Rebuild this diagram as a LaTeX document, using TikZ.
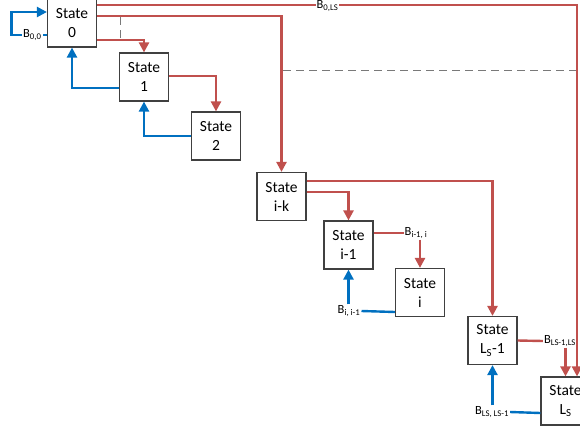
\documentclass[tikz,border=0pt]{standalone}
\usepackage{fontspec}
\setmainfont{Carlito}
\usetikzlibrary{arrows.meta}
\definecolor{stred}{RGB}{192,80,77}
\definecolor{stblue}{RGB}{0,112,192}
\definecolor{stgray}{RGB}{64,64,64}
\begin{document}
\begin{tikzpicture}[x=1pt, y=-1pt,
    redline/.style={draw=stred, line width=2.4pt},
    blueline/.style={draw=stblue, line width=2.4pt},
    tip/.style={-{Triangle[length=10pt, width=10pt]}},
    lbl/.style={fill=white, inner sep=1pt, font=\fontsize{12.5}{14}\selectfont}]
   \useasboundingbox (0,0) rectangle (580,431);
   \begin{scope}[every node/.style={draw=stgray, line width=1.2pt, fill=white, minimum width=49pt, minimum height=48pt, inner sep=0pt, align=center, font=\fontsize{15.5}{19}\selectfont}]
    \node (s0) at (72,23) {State\\0};
    \node (s1) at (144,77) {State\\1};
    \node (s2) at (216,136) {State\\2};
    \node (sik) at (281.5,196.5) {State\\i-k};
    \node (sim1) at (348.5,245) {State\\i-1};
    \node (si) at (420,292.5) {State\\i};
    \node (sls1) at (492.5,340.5) {State\\L\textsubscript{S}-1};
    \node (sls) at (565.5,401) {State\\L\textsubscript{S}};
   \end{scope}
   % labels sitting on the connectors
   \node[lbl] (bim1i) at (416,233) {B\textsubscript{i-1, i}};
   \node[lbl] (bii) at (349,311) {B\textsubscript{i, i-1}};
   \node[lbl] (bls1ls) at (560,341) {B\textsubscript{LS-1,LS}};
   \node[lbl] (blsls) at (492,412) {B\textsubscript{LS, LS-1}};
   % dashed guides
   \draw[stgray!70, dash pattern=on 8pt off 5pt, line width=1pt] (120,17) -- (120,40);
   \draw[stgray!70, dash pattern=on 8pt off 5pt, line width=1pt] (283,70) -- (580,70);
   \begin{scope}[every path/.style={redline}]
    \draw[tip] ([yshift=18pt]s0.east) -| node[lbl, pos=0.24, yshift=-1pt] (b0ls) {B\textsubscript{0,LS}} ([xshift=11.5pt]sls.north);
    \draw[tip] ([yshift=7pt]s0.east) -| (sik.north);
    \draw[tip] ([yshift=-17pt]s0.east) -| (s1.north);
    \draw[tip] ([yshift=1pt]s1.east) -| (s2.north);
    \draw[tip] ([yshift=15.5pt]sik.east) -| (sls1.north);
    \draw[tip] ([yshift=4.5pt]sik.east) -| (sim1.north);
    \draw ([yshift=12pt]sim1.east) -- (bim1i.west);
    \draw[tip] (bim1i.south -| si.north) -- (si.north);
    \draw (sls1.east) -- (bls1ls.west);
    \draw[tip] (bls1ls.south -| sls.north) -- (sls.north);
   \end{scope}
   \begin{scope}[every path/.style={blueline}]
    \draw[tip] ([yshift=-12pt]s0.west) -- node[lbl, pos=0.41] (b00) {B\textsubscript{0,0}} ++(-35.5,0) |- ([yshift=11pt]s0.west);
    \draw[tip] ([yshift=-11pt]s1.west) -| (s0.south);
    \draw[tip] (s2.west) -| (s1.south);
    \draw ([yshift=-19.5pt]si.west) -- (bii.east);
    \draw[tip] (bii.north -| sim1.south) -- (sim1.south);
    \draw ([yshift=-12pt]sls.west) -- (blsls.east);
    \draw[tip] (blsls.north -| sls1.south) -- (sls1.south);
   \end{scope}
\end{tikzpicture}
\end{document}
